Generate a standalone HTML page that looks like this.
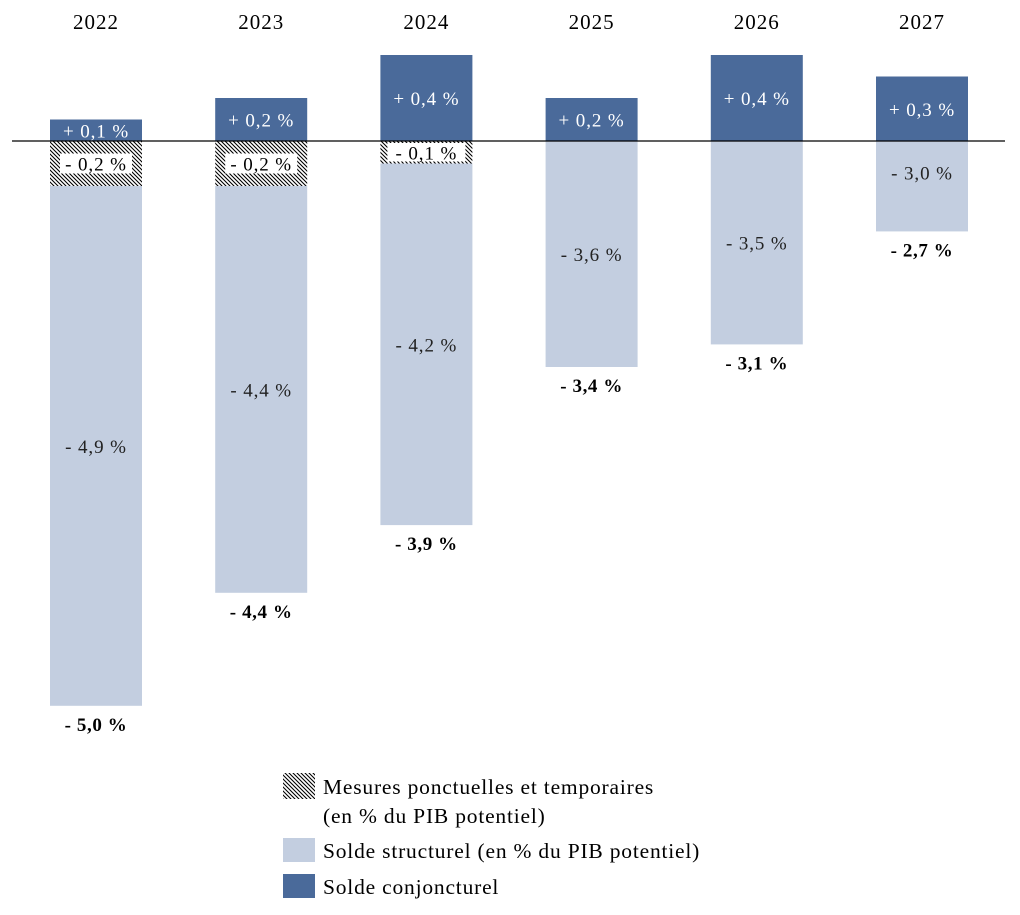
<!DOCTYPE html>
<html><head><meta charset="utf-8"><style>
body{margin:0;background:#fff;}
svg{display:block;font-family:"Liberation Serif",serif;}
</style></head><body>
<svg id="chart" width="1020" height="915">
<defs><pattern id="hatch" width="4" height="4" patternUnits="userSpaceOnUse"><rect width="4" height="4" fill="#fff"/><path d="M-1,-1 L5,5 M-1,3 L1,5 M3,-1 L5,1" stroke="#000" stroke-width="1.1"/></pattern></defs>
<g id="bars"></g>
<line x1="12" x2="1005" y1="141" y2="141" stroke="#000" stroke-width="1.2"/>
<g id="labels"></g>
<g font-size="21.5" letter-spacing="0.8">
<rect x="283" y="773" width="32" height="26" fill="url(#hatch)"/>
<text x="323" y="794">Mesures ponctuelles et temporaires</text>
<text x="323" y="823">(en % du PIB potentiel)</text>
<rect x="283" y="838" width="32" height="24" fill="#C3CEE0"/>
<text x="323" y="858">Solde structurel (en % du PIB potentiel)</text>
<rect x="283" y="874" width="32" height="24" fill="#4A6A9A"/>
<text x="323" y="894">Solde conjoncturel</text>
</g>
</svg>
<script>
const years=["2022","2023","2024","2025","2026","2027"];
const cyclical=[0.1,0.2,0.4,0.2,0.4,0.3];
const oneOff=[0.2,0.2,0.1,0,0,0];
const structural=[4.9,4.4,4.2,3.6,3.5,3.0];
const totals=[5.0,4.4,3.9,3.4,3.1,2.7];
const ZERO=141, K=215, KH=225, KS=226, OFFSET=2.6, BW=92;
const cx=i=>96+i*165.2;
const hPos=v=>v*K;
const hHatch=v=>v*KH;
const hStruct=v=>Math.max(0,(v-OFFSET)*KS);
const fmt=v=>v.toFixed(1).replace('.',',');
const NS="http://www.w3.org/2000/svg";
const bars=document.getElementById('bars'), labels=document.getElementById('labels');
function mk(tag,attrs,parent,txt){const e=document.createElementNS(NS,tag);for(const k in attrs)e.setAttribute(k,attrs[k]);if(txt!==undefined)e.textContent=txt;parent.appendChild(e);return e;}
years.forEach((y,i)=>{
  const x=cx(i)-BW/2;
  const yr=mk('text',{x:cx(i),y:29,'font-size':21,'letter-spacing':1,'text-anchor':'middle'},labels,y);
  
  
  const hc=hPos(cyclical[i]);
  const rc=mk('rect',{x:x,y:ZERO-hc,width:BW,height:hc,fill:'#4A6A9A'},bars);
  
  
  const tc=mk('text',{x:cx(i),y:ZERO-hc/2+7,'font-size':19,'letter-spacing':0.9,'text-anchor':'middle',fill:'#fff'},labels,'+ '+fmt(cyclical[i])+' %');
  
  
  let top=ZERO;
  if(oneOff[i]>0){
    const ho=hHatch(oneOff[i]);
    const ro=mk('rect',{x:x,y:top,width:BW,height:ho,fill:'url(#hatch)'},bars);
    
    
    const bw=ho<30?78:72, bh=Math.min(20,ho-4);
    mk('rect',{x:cx(i)-bw/2,y:top+ho/2-bh/2,width:bw,height:bh,fill:'#fff'},labels);
    const to=mk('text',{x:cx(i),y:top+ho/2+7,'font-size':19,'letter-spacing':0.9,'text-anchor':'middle'},labels,'- '+fmt(oneOff[i])+' %');
    
    
    top+=ho;
  }
  const hs=hStruct(structural[i]);
  const rs=mk('rect',{x:x,y:top,width:BW,height:hs,fill:'#C3CEE0'},bars);
  
  
  const ly=hs<120?top+hs*0.35+7:top+hs/2+7;
  const ts=mk('text',{x:cx(i),y:ly,'font-size':19,'letter-spacing':0.9,'text-anchor':'middle',fill:'#222'},labels,'- '+fmt(structural[i])+' %');
  
  
  const tt=mk('text',{x:cx(i),y:top+hs+25,'font-size':19,'letter-spacing':0.6,'font-weight':'bold','text-anchor':'middle'},labels,'- '+fmt(totals[i])+' %');
  
  
});
</script>
</body></html>
